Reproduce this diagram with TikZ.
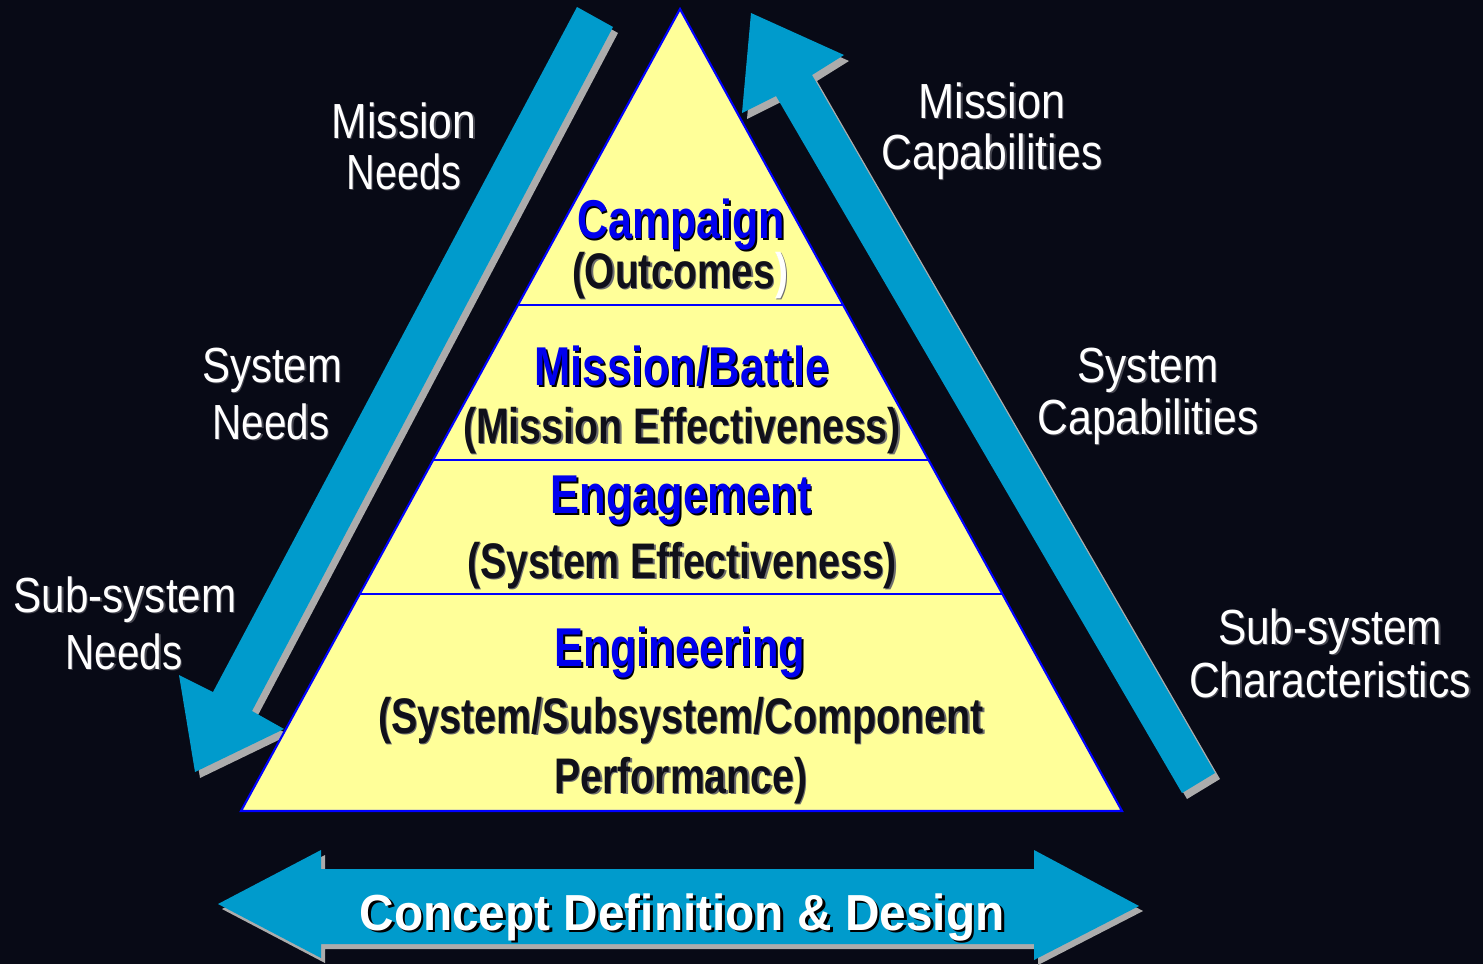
\documentclass[tikz,border=0pt]{standalone}
\usepackage{fontspec}
\setmainfont{Liberation Sans}
\definecolor{bg}{RGB}{8,10,22}
\definecolor{arrowblue}{RGB}{0,155,204}
\definecolor{shadowgray}{RGB}{172,172,172}
\definecolor{tri}{RGB}{255,255,153}
\definecolor{triline}{RGB}{0,0,255}
\definecolor{headblue}{RGB}{0,0,238}
\definecolor{subc}{RGB}{16,16,26}
\definecolor{labsh}{RGB}{70,70,80}
\definecolor{subsh}{RGB}{110,110,110}
\newsavebox\fitbox
\newlength\fitlen
\newcommand\fitw[2]{\sbox\fitbox{#2}\fitlen=\wd\fitbox\pgfmathsetmacro\fitr{#1*0.75/\fitlen}\scalebox{\fitr}[1]{\usebox\fitbox}}
\def\pc{white}
\newcommand\shd[3]{\leavevmode\rlap{\kern#2\raisebox{-#2}{\def\pc{#1}\color{#1}#3}}#3}
\tikzset{
  lab/.style={text=white, anchor=base, inner sep=0pt, font=\fontsize{37}{42}\selectfont},
  head/.style={text=headblue, anchor=base, inner sep=0pt, font=\bfseries\fontsize{41}{46}\selectfont},
  subt/.style={text=subc, anchor=base, inner sep=0pt, font=\bfseries\fontsize{37.5}{42}\selectfont},
  bigt/.style={text=white, anchor=base, inner sep=0pt, font=\bfseries\fontsize{38}{42}\selectfont},
  arr/.style={fill=arrowblue},
  arrsh/.style={fill=shadowgray},
  band/.style={draw=triline, line width=1.3pt},
}
\begin{document}
\begin{tikzpicture}[x=0.75pt,y=-0.75pt]
\useasboundingbox (0,0) rectangle (1483,964);
\fill[bg] (0,0) rectangle (1483,964);

% left arrow (down-left): shadow then body
\fill[arrsh, shift={(5,6)}] (577,7) -- (613,27) -- (252,711) -- (284,729) -- (195,772) -- (179,675) -- (213,692) -- cycle;
\fill[arr] (577,7) -- (613,27) -- (252,711) -- (284,729) -- (195,772) -- (179,675) -- (213,692) -- cycle;

% right arrow (up-left)
\fill[arrsh, shift={(5,6)}] (751,13) -- (844,55) -- (812,75) -- (1215,773) -- (1182,793) -- (776,96) -- (742,113) -- cycle;
\fill[arr] (751,13) -- (844,55) -- (812,75) -- (1215,773) -- (1182,793) -- (776,96) -- (742,113) -- cycle;

% bottom double arrow
\fill[arrsh, shift={(4,5)}] (218,904) -- (321,850) -- (321,869) -- (1034,869) -- (1034,850) -- (1139,906) -- (1034,960) -- (1034,944) -- (321,944) -- (321,958) -- cycle;
\fill[arr] (218,904) -- (321,850) -- (321,869) -- (1034,869) -- (1034,850) -- (1139,906) -- (1034,960) -- (1034,944) -- (321,944) -- (321,958) -- cycle;

% pyramid
\filldraw[fill=tri, draw=triline, line width=1.6pt, line join=miter] (680,9) -- (241,811) -- (1122,811) -- cycle;
\draw[band] (518,305) -- (843,305);
\draw[band] (433,460) -- (928.6,460);
\draw[band] (359.8,594) -- (1002.4,594);

% pyramid texts
\node[head] (campaign) at (681,238) {\fitw{208}{\shd{black}{1.5pt}{Campaign}}};
\node[subt] (outcomes) at (680,288) {\fitw{216}{\shd{subsh}{1.3pt}{(Outcomes\textcolor{\pc}{)}}}};
\node[head] (mission) at (682,385) {\fitw{295}{\shd{black}{1.5pt}{Mission/Battle}}};
\node[subt] (missioneff) at (682,443) {\fitw{438}{\shd{subsh}{1.3pt}{(Mission Effectiveness)}}};
\node[head] (engage) at (681,513) {\fitw{261}{\shd{black}{1.5pt}{Engagement}}};
\node[subt] (syseff) at (682,578) {\fitw{430}{\shd{subsh}{1.3pt}{(System Effectiveness)}}};
\node[head] (engin) at (680,666) {\fitw{251}{\shd{black}{1.5pt}{Engineering}}};
\node[subt] (ssc) at (681,733) {\fitw{606}{\shd{subsh}{1.3pt}{(System/Subsystem/Component}}};
\node[subt] (perf) at (681,793) {\fitw{253}{\shd{subsh}{1.3pt}{Performance)}}};

% side labels, left
\node[lab] (mnA) at (404,138) {\fitw{145}{\shd{labsh}{1.2pt}{Mission}}};
\node[lab] (mnB) at (404,189) {\fitw{115}{\shd{labsh}{1.2pt}{Needs}}};
\node[lab] (snA) at (272,382) {\fitw{140}{\shd{labsh}{1.2pt}{System}}};
\node[lab] (snB) at (271,439) {\fitw{117}{\shd{labsh}{1.2pt}{Needs}}};
\node[lab] (ssnA) at (125,612) {\fitw{223}{\shd{labsh}{1.2pt}{Sub-system}}};
\node[lab] (ssnB) at (124,669) {\fitw{117}{\shd{labsh}{1.2pt}{Needs}}};

% side labels, right
\node[lab] (mcA) at (992,118) {\fitw{147}{\shd{labsh}{1.2pt}{Mission}}};
\node[lab] (mcB) at (992,169) {\fitw{221}{\shd{labsh}{1.2pt}{Capabilities}}};
\node[lab] (scA) at (1148,382) {\fitw{141}{\shd{labsh}{1.2pt}{System}}};
\node[lab] (scB) at (1148,434) {\fitw{221}{\shd{labsh}{1.2pt}{Capabilities}}};
\node[lab] (sccA) at (1330,644) {\fitw{224}{\shd{labsh}{1.2pt}{Sub-system}}};
\node[lab] (sccB) at (1330,697) {\fitw{282}{\shd{labsh}{1.2pt}{Characteristics}}};

% bottom label
\node[bigt] (concept) at (682,930) {\fitw{645}{\shd{black}{2.2pt}{Concept Definition \& Design}}};
\end{tikzpicture}
\end{document}
